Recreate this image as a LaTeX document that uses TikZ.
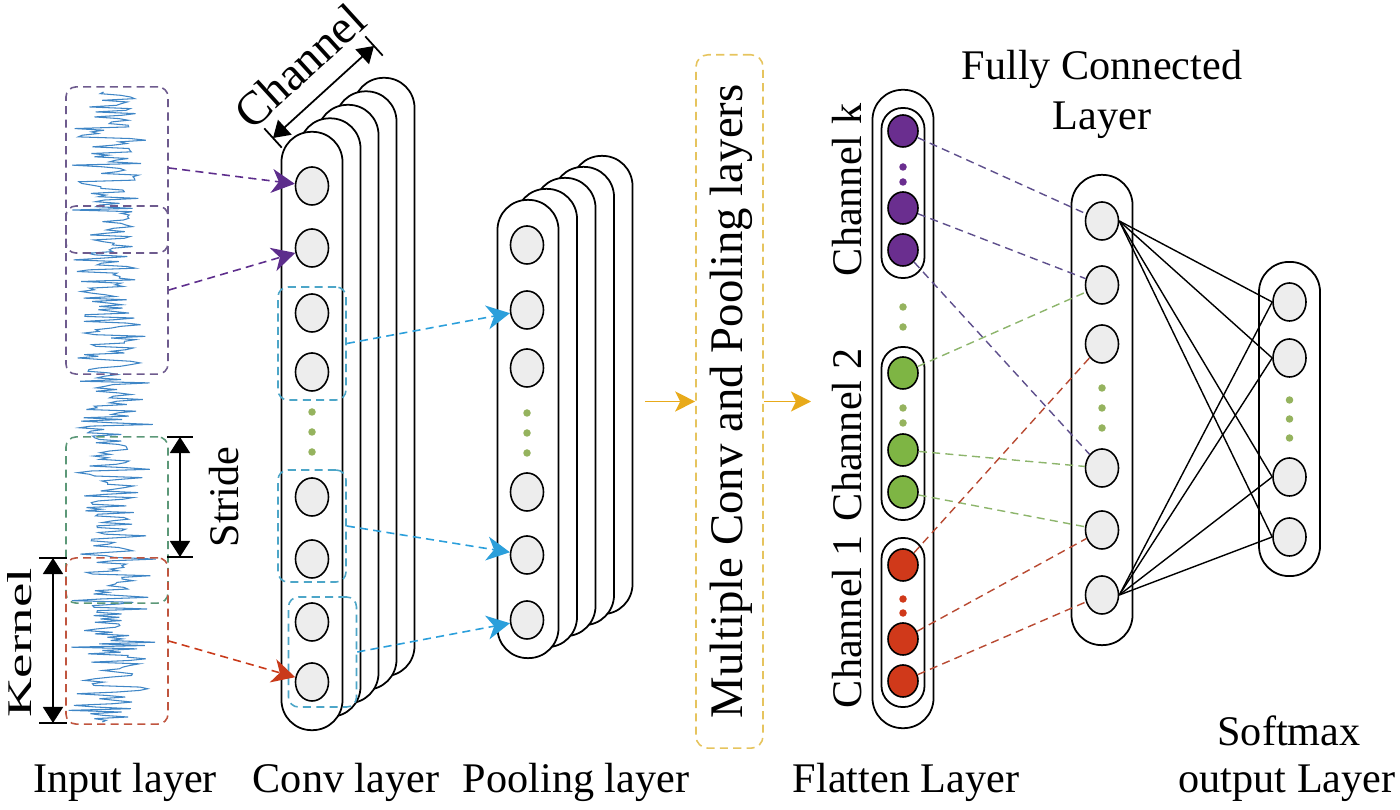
\documentclass[tikz,border=0pt]{standalone}
\usepackage{fontspec}
\setmainfont{Liberation Serif}
\usepackage{graphicx}
\usepackage{xcolor}
\usetikzlibrary{arrows.meta,positioning,calc,shapes.geometric}
\definecolor{sigblue}{HTML}{3F86C6}
\definecolor{winpurple}{HTML}{6E5B8E}
\definecolor{arrpurple}{HTML}{5D2D8C}
\definecolor{lnpurple}{HTML}{5E4F8C}
\definecolor{arrcyan}{HTML}{2B9FDB}
\definecolor{wincyan}{HTML}{4DA6C8}
\definecolor{arrred}{HTML}{C93A1A}
\definecolor{winred}{HTML}{C0553F}
\definecolor{wingreen}{HTML}{5C9878}
\definecolor{lngreen}{HTML}{8DB56C}
\definecolor{lnred}{HTML}{B84A32}
\definecolor{neupurple}{HTML}{6A2E8F}
\definecolor{neugreen}{HTML}{7EB544}
\definecolor{neured}{HTML}{D0391A}
\definecolor{dotgreen}{HTML}{95B35E}
\definecolor{arryellow}{HTML}{E8AA1A}
\definecolor{winyellow}{HTML}{E6C45E}
\tikzset{
  lyr/.style={rectangle, draw, line width=0.5pt, fill=white, minimum width=6.1mm,
              rounded corners=3mm, inner sep=0pt},
  sublyr/.style={rectangle, draw, line width=0.5pt, fill=white, minimum width=4.3mm,
                 rounded corners=2.1mm, inner sep=0pt},
  neu/.style={ellipse, draw, line width=0.45pt, fill=black!7, minimum width=3.3mm,
              minimum height=3.8mm, inner sep=0pt},
  cneu/.style={ellipse, draw, line width=0.45pt, fill=#1, minimum width=3mm,
               minimum height=3.2mm, inner sep=0pt},
  vdot/.style={circle, fill=#1, minimum size=0.75mm, inner sep=0pt},
  win/.style={rectangle, draw=#1, dash pattern=on 2.3pt off 1.5pt, line width=0.45pt,
              rounded corners=1mm, minimum width=10.2mm, inner sep=0pt},
  cwin/.style={rectangle, draw=wincyan, dash pattern=on 2.3pt off 1.5pt, line width=0.45pt,
               rounded corners=1mm, minimum width=6.8mm, inner sep=0pt},
  ywin/.style={rectangle, draw=winyellow, dash pattern=on 2.3pt off 1.5pt, line width=0.45pt,
               rounded corners=1.2mm, minimum width=6.7mm, inner sep=0pt},
  dl/.style={draw=#1, dash pattern=on 2.3pt off 1.5pt, line width=0.4pt},
  darr/.style={draw=#1, dash pattern=on 2.3pt off 1.5pt, line width=0.45pt,
               -{Stealth[length=2.3mm,width=2.4mm,inset=0.7mm,fill=#1]}},
  yarr/.style={draw=arryellow, line width=0.55pt, -{Stealth[length=2mm,width=2mm,inset=0.5mm]}},
  dim/.style={line width=0.5pt, {Triangle[length=1.6mm,width=2mm]}-{Triangle[length=1.6mm,width=2mm]}},
  lbl/.style={font=\fontsize{12}{14.2}\selectfont, inner sep=0pt},
  sig/.style={draw=sigblue, line width=0.3pt},
}

\begin{document}
\begin{tikzpicture}[x=0.01cm, y=-0.01cm]
\useasboundingbox (0,0) rectangle (1400,810);
\pgfmathsetseed{11}
\draw[sig] plot[variable=\t, domain=92:722, samples=380] ({112+(18+27*rnd)*rand}, \t);
\node[win=winpurple, minimum height=2.87cm] (ink) at (117,230.5) {};
\node[win=winpurple, minimum height=0.47cm] (ins) at (117,229.5) {};
\node[win=wingreen, minimum height=1.66cm] (ing) at (117,520) {};
\node[win=winred, minimum height=1.66cm] (inr) at (117,641) {};
\coordinate (st1) at (180,437);
\coordinate (st2) at (180,557);
\draw[dim] (st1) -- (st2);
\draw[line width=0.5pt] ([xshift=-1.25mm]st1) -- ([xshift=1.25mm]st1) ([xshift=-1.25mm]st2) -- ([xshift=1.25mm]st2);
\node[lbl, rotate=90] (strl) at (224,497) {Stride};
\coordinate (kn1) at (53,558);
\coordinate (kn2) at (53,723);
\draw[dim] (kn1) -- (kn2);
\draw[line width=0.5pt] ([xshift=-1.35mm]kn1) -- ([xshift=1.35mm]kn1) ([xshift=-1.35mm]kn2) -- ([xshift=1.35mm]kn2);
\node[lbl, rotate=90] (knl) at (20,643) {\scalebox{1.3}[0.82]{Kernel}};
\foreach \k in {4,3,2,1}
  \node[lyr, minimum height=5.98cm] (cvb\k) at ({312+18*\k},{431-13.5*\k}) {};
\node[lyr, minimum height=5.98cm] (conv) at (312,431) {};
\foreach \n/\y in {1/186,2/248,3/313,4/372,5/497,6/559,7/622,8/682}
  \node[neu] (cv\n) at (312,\y) {};
\foreach \n/\y in {1/412,2/432,3/452}
  \node[vdot=dotgreen] (cvd\n) at (312,\y) {};
\node[cwin, minimum height=1.13cm] (cwa) at (312,343.5) {};
\node[cwin, minimum height=1.12cm] (cwb) at (312,526) {};
\node[cwin, minimum height=1.10cm] (cwc) at (322.5,652) {};
\coordinate (cha) at (273,138);
\coordinate (chb) at (374,46);
\draw[dim] (cha) -- node[lbl, font=\fontsize{13.5}{15}\selectfont, sloped, above=5pt] (chl) {Channel} (chb);
\draw[line width=0.5pt] ($(cha)!1.3mm!90:(chb)$) -- ($(cha)!1.3mm!-90:(chb)$) ($(chb)!1.3mm!90:(cha)$) -- ($(chb)!1.3mm!-90:(cha)$);
\foreach \k in {4,3,2,1}
  \node[lyr, minimum height=4.58cm] (plb\k) at ({528+18.5*\k},{429-11*\k}) {};
\node[lyr, minimum height=4.58cm] (pool) at (528,429) {};
\foreach \n/\y in {1/245,2/310,3/368,4/492,5/555,6/620}
  \node[neu] (pl\n) at (527,\y) {};
\foreach \n/\y in {1/413,2/433,3/453}
  \node[vdot=dotgreen] (pld\n) at (527,\y) {};
\draw[darr=arrpurple] ([yshift=6.25mm]ink.east) -- (cv1);
\draw[darr=arrpurple] ([yshift=-5.95mm]ink.east) -- (cv2);
\draw[darr=arrred] (inr.east) -- (cv8);
\draw[darr=arrcyan] (cwa.east) -- (pl2);
\draw[darr=arrcyan] (cwb.east) -- (pl5);
\draw[darr=arrcyan] (cwc.east) -- (pl6);
\node[ywin, minimum height=6.93cm] (mcp) at (729.5,401.5) {};
\node[lbl, font=\fontsize{13.3}{15}\selectfont, rotate=90] (mcpt) at (731,401.5) {Multiple Conv and Pooling layers};
\coordinate (pout) at (645,401.5);
\coordinate (fin) at (811,401.5);
\draw[yarr] (pout) -- (mcp.west);
\draw[yarr] (mcp.east) -- (fin);
\node[lyr, minimum height=6.38cm] (flat) at (903,409) {};
\node[sublyr, minimum height=1.70cm] (sck) at (903,193) {};
\node[sublyr, minimum height=1.73cm] (sc2) at (903,433.5) {};
\node[sublyr, minimum height=1.69cm] (sc1) at (903,622.5) {};
\foreach \n/\y in {1/131,2/208,3/250}
  \node[cneu=neupurple] (fk\n) at (903,\y) {};
\foreach \n/\y in {1/373,2/450,3/492}
  \node[cneu=neugreen] (f2\n) at (903,\y) {};
\foreach \n/\y in {1/565,2/639,3/681}
  \node[cneu=neured] (f1\n) at (903,\y) {};
\node[vdot=neupurple] (fkd1) at (903,167) {};
\node[vdot=neupurple] (fkd2) at (903,182) {};
\node[vdot=dotgreen] (fgd1) at (903,307) {};
\node[vdot=dotgreen] (fgd2) at (903,327) {};
\node[vdot=dotgreen] (f2d1) at (903,408) {};
\node[vdot=dotgreen] (f2d2) at (903,423) {};
\node[vdot=neured] (f1d1) at (903,599) {};
\node[vdot=neured] (f1d2) at (903,613) {};
\node[lbl, rotate=90] (lck) at (847,190) {Channel k};
\node[lbl, rotate=90] (lc2) at (847,435) {Channel 2};
\node[lbl, rotate=90] (lc1) at (847,622) {Channel 1};
\node[lyr, minimum height=4.70cm] (fcl) at (1102,410) {};
\foreach \n/\y in {1/221,2/285,3/344,4/468,5/530,6/595}
  \node[neu] (fc\n) at (1102,\y) {};
\foreach \n/\y in {1/388,2/408,3/428}
  \node[vdot=dotgreen] (fcd\n) at (1102,\y) {};
\node[lyr, minimum height=3.14cm] (sml) at (1289.5,419) {};
\foreach \n/\y in {1/302,2/358,3/477,4/537}
  \node[neu] (sm\n) at (1289.5,\y) {};
\foreach \n/\y in {1/400,2/419,3/438}
  \node[vdot=dotgreen] (smd\n) at (1289.5,\y) {};
\draw[dl=lnpurple] (fk1) -- (fc1);
\draw[dl=lnpurple] (fk2) -- (fc2);
\draw[dl=lnpurple] (fk3) -- (fc4);
\draw[dl=lngreen] (f21) -- (fc2);
\draw[dl=lngreen] (f22) -- (fc4);
\draw[dl=lngreen] (f23) -- (fc5);
\draw[dl=lnred] (f11) -- (fc3);
\draw[dl=lnred] (f12) -- (fc5);
\draw[dl=lnred] (f13) -- (fc6);
\foreach \s in {1,...,4}
  \draw[line width=0.4pt] (fc1.east) -- (sm\s.west) (fc6.east) -- (sm\s.west);
\node[lbl, anchor=base] (tfc1) at (1102,80) {Fully Connected};
\node[lbl, anchor=base] (tfc2) at (1102,130) {Layer};
\node[lbl, anchor=base] (tin) at (125,792) {Input layer};
\node[lbl, anchor=base] (tcv) at (346,792) {Conv layer};
\node[lbl, anchor=base] (tpl) at (576,792) {Pooling layer};
\node[lbl, anchor=base] (tfl) at (906,792) {Flatten Layer};
\node[lbl, anchor=base] (tsm1) at (1289,745) {Softmax};
\node[lbl, anchor=base] (tsm2) at (1287,792) {output Layer};
\end{tikzpicture}
\end{document}
